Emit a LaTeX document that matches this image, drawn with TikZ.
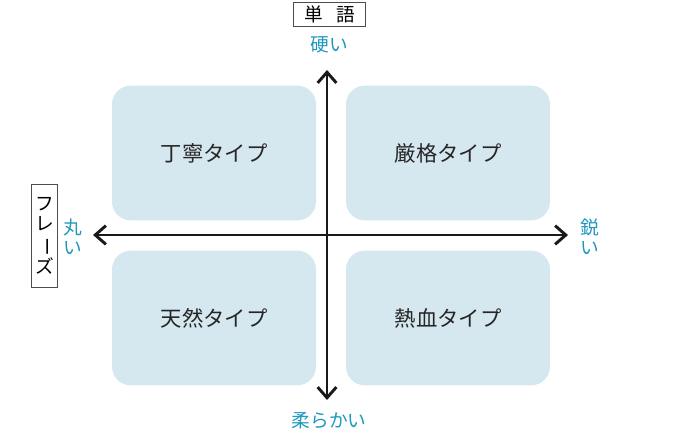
\documentclass[tikz,border=0pt]{standalone}
\usepackage{fontspec}
\setmainfont{Noto Sans CJK JP}
\usetikzlibrary{arrows.meta}
\definecolor{teal1}{HTML}{1E98BE}
\definecolor{pale}{HTML}{D6E8EF}
\tikzset{
  quad/.style={fill=pale,rounded corners=14pt,minimum width=153pt,minimum height=101pt,font=\fontsize{16}{18}\selectfont,text=black!85},
  axis/.style={line width=2.2pt,-{Straight Barb[length=8pt,width=14pt,line width=2.2pt]},black!90},
  lab/.style={text=teal1,font=\fontsize{14}{15}\selectfont,inner sep=0pt},
  tagbox/.style={draw=black!70,line width=0.6pt,font=\fontsize{14}{15}\selectfont,inner sep=2pt}
}
\begin{document}
\begin{tikzpicture}[x=0.75pt,y=-0.75pt]
\useasboundingbox (0,0) rectangle (680,434);
\node[quad] (tl) at (214,153) {丁寧タイプ};
\node[quad] (tr) at (448,153) {厳格タイプ};
\node[quad] (bl) at (214,318) {天然タイプ};
\node[quad] (br) at (448,318) {熱血タイプ};
\coordinate (c) at (327,235);
\coordinate (top) at (327,70);
\coordinate (bot) at (327,400);
\coordinate (lft) at (93,235);
\coordinate (rgt) at (568,235);
\draw[axis] (c) -- (top);
\draw[axis] (c) -- (bot);
\draw[axis] (c) -- (lft);
\draw[axis] (c) -- (rgt);
\node[tagbox,minimum width=54pt,minimum height=18pt] (w) at (329.5,14.5) {単\hspace{0.7em}語};
\node[lab] (hard) at (329,45) {硬い};
\node[lab] (soft) at (329,421) {柔らかい};
\node[tagbox,minimum width=20pt,minimum height=77pt,align=center] (ph) at (44.5,236) {フ\\レ\\\rotatebox[origin=c]{-90}{ー}\\ズ};
\node[lab,align=center] (round) at (73,237) {丸\\い};
\node[lab,align=center] (sharp) at (590,237) {鋭\\い};
\end{tikzpicture}
\end{document}
